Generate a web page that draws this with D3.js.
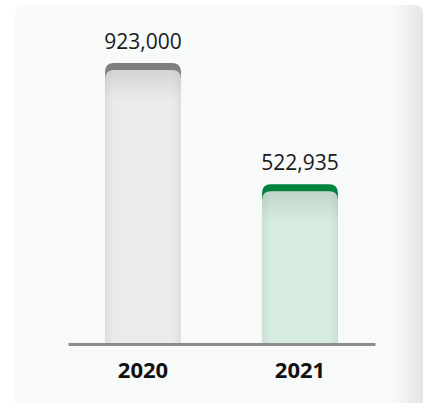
<!DOCTYPE html>
<meta charset="utf-8">
<style>
    body { margin: 0; background: #fff; }
    svg { display: block; font-family: "Open Sans", sans-serif; }
</style>
<div id="chart"></div>
<script src="https://d3js.org/d3.v7.min.js"></script>
<script>
    var years = ["2020", "2021"];
    var values = [923000, 522935];
    var capColors = ["#7f7f7f", "#00843d"];
    var bodyColors = ["#ebebeb", "#d6ece0"];

    var W = 426, H = 403;

    var svg = d3.select("#chart").append("svg")
        .attr("width", W)
        .attr("height", H);

    var defs = svg.append("defs");

    // card side shadow
    var sg = defs.append("linearGradient").attr("id", "side")
        .attr("x1", 0).attr("x2", 1).attr("y1", 0).attr("y2", 0);
    sg.append("stop").attr("offset", "0").attr("stop-color", "#f8f9f9");
    sg.append("stop").attr("offset", "0.93").attr("stop-color", "#f8f9f9");
    sg.append("stop").attr("offset", "1").attr("stop-color", "#e4e5e5");

    // card (runs off the bottom of the picture)
    svg.append("rect")
        .attr("x", 15).attr("y", 5)
        .attr("width", 408).attr("height", 420)
        .attr("rx", 8)
        .attr("fill", "url(#side)");

    // horizontal edge shading for the bars
    var hg = defs.append("linearGradient").attr("id", "hshade")
        .attr("x1", 0).attr("x2", 1).attr("y1", 0).attr("y2", 0);
    hg.append("stop").attr("offset", "0").attr("stop-color", "#000").attr("stop-opacity", 0.05);
    hg.append("stop").attr("offset", "0.12").attr("stop-color", "#000").attr("stop-opacity", 0);
    hg.append("stop").attr("offset", "0.88").attr("stop-color", "#000").attr("stop-opacity", 0);
    hg.append("stop").attr("offset", "1").attr("stop-color", "#000").attr("stop-opacity", 0.05);

    var base = 343;
    var y = d3.scaleLinear()
        .domain([0, d3.max(values)])
        .range([base, 63]);

    var x = d3.scaleBand()
        .domain(years)
        .range([68, 375])
        .paddingInner(0.516)
        .paddingOuter(0.236);

    var bw = x.bandwidth();
    var r = 9, capH = 7;

    function roundTop(x0, t) {
        return "M" + x0 + "," + base + "V" + (t + r) +
            "Q" + x0 + "," + t + " " + (x0 + r) + "," + t +
            "H" + (x0 + bw - r) +
            "Q" + (x0 + bw) + "," + t + " " + (x0 + bw) + "," + (t + r) +
            "V" + base + "Z";
    }

    years.forEach(function(yr, i) {
        var x0 = x(yr), top = y(values[i]);
        var bt = top + capH;

        // top shadow inside the body
        var vg = defs.append("linearGradient").attr("id", "vshade" + i)
            .attr("gradientUnits", "userSpaceOnUse")
            .attr("x1", 0).attr("x2", 0).attr("y1", bt).attr("y2", bt + 30);
        vg.append("stop").attr("offset", "0").attr("stop-color", "#000").attr("stop-opacity", 0.1);
        vg.append("stop").attr("offset", "1").attr("stop-color", "#000").attr("stop-opacity", 0);

        var g = svg.append("g");
        g.append("path").attr("d", roundTop(x0, top)).attr("fill", capColors[i]);
        g.append("path").attr("d", roundTop(x0, bt)).attr("fill", bodyColors[i]);
        g.append("path").attr("d", roundTop(x0, bt)).attr("fill", "url(#hshade)");
        g.append("path").attr("d", roundTop(x0, bt)).attr("fill", "url(#vshade" + i + ")");

        // value label
        svg.append("text")
            .attr("x", x0 + bw / 2)
            .attr("y", top - 14)
            .attr("text-anchor", "middle")
            .attr("font-size", 21)
            .attr("fill", "#1a1a1a")
            .text(d3.format(",")(values[i]));
    });

    // x axis
    var axis = svg.append("g")
        .attr("transform", "translate(0," + (base + 1) + ")")
        .call(d3.axisBottom(x).tickSize(0).tickSizeOuter(0));
    axis.select(".domain")
        .attr("stroke", "#8c8c8c")
        .attr("stroke-width", 3);
    axis.selectAll(".tick text")
        .attr("y", 34)
        .attr("dy", 0)
        .attr("font-family", "'Open Sans', sans-serif")
        .attr("font-size", 22)
        .attr("font-weight", "bold")
        .attr("fill", "#111");
</script>
